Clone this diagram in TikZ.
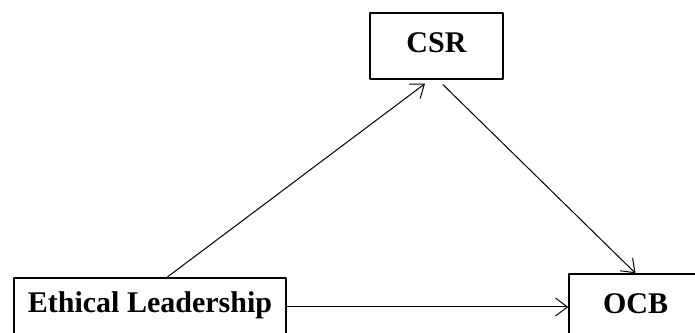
\documentclass[tikz,border=0pt]{standalone}
\usepackage{fontspec}
\setmainfont{Liberation Serif}
\usetikzlibrary{arrows.meta}
\begin{document}
\begin{tikzpicture}[>={Straight Barb[length=12bp,width=18bp]},line join=bevel,
  varbox/.style={draw,line width=1.4bp,inner xsep=0pt,text height=20bp,anchor=base,
    font=\fontsize{30bp}{36bp}\selectfont\bfseries},
  link/.style={black,->,line width=1bp}]
%%
\useasboundingbox (0bp,0bp) rectangle (695bp,333bp);
\node (node_csr) at (436.5bp,280bp) [varbox,minimum width=133bp,text depth=6bp,inner ysep=20bp] {CSR};
  \node (node_el) at (150bp,21bp) [varbox,minimum width=272bp,text depth=10bp,inner ysep=14bp] {Ethical Leadership};
  \node (node_ocb) at (635.5bp,20bp) [varbox,minimum width=133bp,text depth=10bp,inner ysep=19bp] {OCB};
  \draw [link] ([xshift=17bp]node_el.north) -- ([xshift=-11.5bp,yshift=-4bp]node_csr.south);
  \draw [link] ([xshift=6.5bp,yshift=-5bp]node_csr.south) -- (node_ocb.north);
  \draw [link] (node_el.east) -- (node_el.east -| node_ocb.west);
%
\end{tikzpicture}
\end{document}
